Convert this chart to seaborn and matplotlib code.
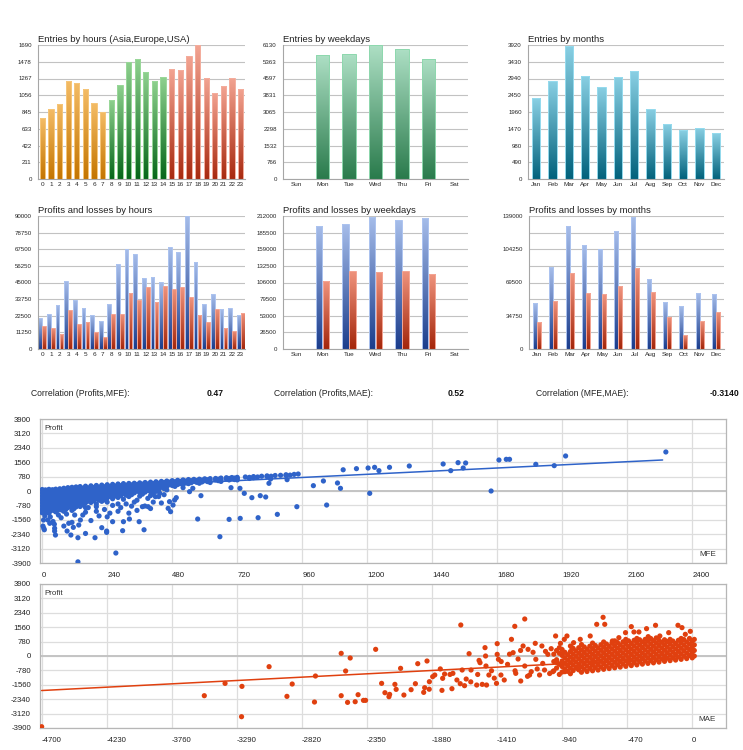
import numpy as np
import pandas as pd
import seaborn as sns
import matplotlib.pyplot as plt
from matplotlib.colors import LinearSegmentedColormap

# ---- bar chart data -------------------------------------------------------
hours = [str(h) for h in range(24)]
hour_session = ["Asia"] * 8 + ["Europe"] * 7 + ["USA"] * 9
hour_entries = [765, 879, 946, 1240, 1211, 1139, 954, 841, 1000, 1186, 1480, 1513,
                1345, 1236, 1282, 1387, 1375, 1551, 1690, 1278, 1085, 1177, 1278, 1139]
hour_entry_ticks = ["0", "211", "422", "633", "845", "1056", "1267", "1478", "1690"]

weekdays = ["Sun", "Mon", "Tue", "Wed", "Thu", "Fri", "Sat"]
weekday_entries = [0, 5657, 5703, 6110, 5932, 5490, 0]
weekday_entry_ticks = ["0", "766", "1532", "2298", "3065", "3831", "4597", "5363", "6130"]

months = ["Jan", "Feb", "Mar", "Apr", "May", "Jun", "Jul", "Aug", "Sep", "Oct", "Nov", "Dec"]
month_entries = [2360, 2867, 3905, 3023, 2701, 2994, 3159, 2057, 1609, 1424, 1492, 1336]
month_entry_ticks = ["0", "490", "980", "1470", "1960", "2450", "2940", "3430", "3920"]

hour_profits = [20750, 23690, 29780, 46020, 33160, 27750, 23240, 18950, 30460, 57300, 67450, 64300,
                48050, 48730, 45120, 68810, 65420, 90000, 58880, 30680, 37000, 26850, 27750, 23010]
hour_losses = [15790, 13990, 9930, 26400, 16690, 18050, 11730, 8350, 23690, 23690, 37670, 32940,
               42190, 31810, 42640, 40830, 41740, 34970, 23240, 18270, 27300, 14440, 12410, 24590]
hour_pl_ticks = ["0", "11250", "22500", "33750", "45000", "56250", "67500", "78750", "90000"]

weekday_profits = [0, 196600, 198700, 210900, 205600, 209300, 0]
weekday_losses = [0, 108900, 124900, 123300, 124900, 120100, 0]
weekday_pl_ticks = ["0", "26500", "53000", "79500", "106000", "132500", "159000", "185500", "212000"]

month_profits = [47730, 85350, 128200, 108350, 104870, 123330, 138300, 73510, 49470, 44600, 58180, 57830]
month_losses = [27870, 50170, 79080, 58880, 57490, 65500, 85010, 59920, 33450, 14980, 29270, 38670]
month_pl_ticks = ["0", "", "34750", "", "69500", "", "104250", "", "139000"]

# ---- scatter data: MFE vs profit ------------------------------------------
# dense cloud, one list of profits per MFE column
mfe_cloud_x = [0, 12, 25, 38, 50, 65, 80, 95, 110, 125, 140, 160, 180, 200, 220, 240, 260, 280,
               300, 320, 340, 360, 380, 400, 420, 440, 460, 480, 500, 520, 540, 560, 580, 600,
               620, 640, 660, 680, 700, 720, 750, 780, 810, 830, 860, 880, 900, 930, 945,
               6, 18, 31, 44, 57, 72, 87, 102, 117, 132, 150, 170, 190, 210, 230, 250, 270, 290,
               310, 330, 350, 370, 390, 410, 430, 450, 470, 490, 510, 530, 550, 570, 590, 610,
               650, 690, 710, 765, 795, 845, 915]
mfe_cloud_profit = [
    [80, -100, -280, -460, -640, -820, -1000, -1180],
    [60, -120, -300, -480, -660, -840, -1020, -1150],
    [90, -90, -270, -450, -630, -810, -990, -1200],
    [70, -110, -290, -470, -650, -830, -1010],
    [100, -80, -260, -440, -620, -800, -980, -1130],
    [120, -60, -240, -420, -600, -780, -960],
    [150, -30, -210, -390, -570, -750, -930, -1100],
    [180, 0, -180, -360, -540, -720, -900],
    [200, 20, -160, -340, -520, -700, -880, -1050],
    [220, 40, -140, -320, -500, -680, -860],
    [240, 60, -120, -300, -480, -660, -840],
    [260, 80, -100, -280, -460, -640, -900],
    [280, 100, -80, -260, -440, -620],
    [300, 120, -60, -240, -420, -700],
    [320, 140, -40, -220, -400, -560],
    [340, 160, -20, -200, -380, -600],
    [360, 180, 0, -180, -420],
    [380, 200, 20, -160, -350, -700],
    [400, 220, 40, -140, -450],
    [410, 240, 60, -120, -300],
    [420, 260, 80, -100, -600],
    [440, 280, 100, -80, -280],
    [460, 300, 120, -60],
    [480, 320, 140, -40, -250],
    [500, 340, 160, -20],
    [520, 380, 200],
    [540, 400, 250, 60],
    [560, 430, 300],
    [580, 460, 350],
    [600, 480, 380],
    [620, 500, 400],
    [630, 520],
    [640, 540, 420],
    [660, 560],
    [670, 580, 460],
    [680, 600],
    [700, 620, 520],
    [720, 640],
    [730, 660],
    [740, 680, 600],
    [760],
    [780, 720],
    [800],
    [820, 780],
    [840],
    [850],
    [880, 840],
    [900],
    [920],
    [-10, -190, -370, -550, -730, -910, -1090],
    [-30, -210, -390, -570, -750, -930, -1100],
    [0, -180, -360, -540, -720, -900, -1080],
    [-20, -200, -380, -560, -740, -920, -1060],
    [10, -170, -350, -530, -710, -890, -1050],
    [30, -150, -330, -510, -690, -870, -1030],
    [60, -120, -300, -480, -660, -840, -1000],
    [90, -90, -270, -450, -630, -810],
    [110, -70, -250, -430, -610, -790, -960],
    [130, -50, -230, -410, -590, -770],
    [150, -30, -210, -390, -570, -750],
    [170, -10, -190, -370, -550],
    [190, 10, -170, -350, -530],
    [210, 30, -150, -330, -500],
    [230, 50, -130, -310, -480],
    [250, 70, -110, -290],
    [270, 90, -90, -270],
    [290, 110, -70, -250],
    [310, 130, -50, -230],
    [330, 150, -30, -200],
    [350, 170, -10],
    [370, 190, 10, -170],
    [380, 210, 30],
    [400, 230, 50, -150],
    [420, 250, 70],
    [460, 300, 130],
    [480, 340],
    [500, 380, 250],
    [520, 400],
    [540, 430],
    [560, 450],
    [570, 470],
    [590, 490],
    [610, 510],
    [640, 560],
    [680, 600],
    [700, 620],
    [740, 680],
    [760],
    [800],
    [860],
]
# scattered trades
mfe_points = [5, 21, 28, 6, 3, 8, 46, 46, 49, 92, 98, 106, 115, 132, 132, 135, 141, 195, 220, 238,
              238, 272, 260, 297, 300, 322, 358, 376, 574, 656, 690, 731, 797, 868, 940, 1050, 1001,
              1038, 1090, 1101, 1209, 825, 805, 774, 746, 730, 697, 586, 556, 544, 520, 465, 474, 483,
              489, 495, 470, 418, 434, 391, 379, 837, 843, 904, 1111, 1160, 1203, 1227, 1243, 1282,
              1355, 1480, 1508, 1535, 1554, 1563, 1657, 1686, 1713, 1725, 1822, 1890, 1932, 2302,
              170, 200, 230, 260, 290, 310, 330, 350, 370, 390, 410, 430, 450, 200, 250, 150, 120,
              90, 60, 30, 10, 70, 160, 180, 110, 40, 280, 320, 240, 210, 350, 400, 440, 160, 45, 80]
profit_points_mfe = [-1572, -1572, -1750, -2020, -1900, -2100, -2020, -2170, -2385, -2170, -1750,
                     -2385, -1969, -2530, -3838, -1843, -1572, -2530, -1987, -2170, -2240, -3360,
                     -1662, -2150, -1662, -1518, -1662, -2100, -1518, -2476, -1536, -1482, -1446,
                     -1265, -850, -760, 289, 542, 434, 145, -127, -325, -253, -361, -127, 145, 180,
                     -253, 145, -36, 180, -940, -1120, -760, -488, -361, -578, -307, -127, -850,
                     -814, 416, 650, 614, 1150, 1210, 1246, 1282, 1102, 1283, 1355, 1463, 1102, 1535,
                     1246, 1517, 0, 1680, 1716, 1716, 1445, 1373, 1897, 2114,
                     -900, -850, -1000, -780, -900, -700, -820, -500, -850, -400, -600, -300, -200,
                     -1100, -1200, -1300, -1300, -1250, -1300, -1400, -1350, -1450, -1150, -1600,
                     -1700, -1650, -1100, -1200, -1400, -1350, -1050, -950, -650, -2300, -1800, -1900]
mfe_trend_x = [0, 2290]
mfe_trend_y = [50, 1680]
mfe_ticks = [0, 240, 480, 720, 960, 1200, 1440, 1680, 1920, 2160, 2400]

# ---- scatter data: MAE vs profit ------------------------------------------
mae_cloud_x = [15, 0, -40, -80, -120, -160, -200, -240, -280, -320, -360, -400, -440, -480, -520,
               -560, -600, -640, -680, -720, -760, -800, -840, -880, -920, -960, -1000,
               -20, -60, -100, -140, -180, -220, -260, -300, -340, -380, -420, -460, -500, -540,
               -580, -620, -660, -700, -740, -780, -820, -860, -900, -940, -980]
mae_cloud_profit = [
    [0, 300, 600, 900],
    [-100, 200, 500, 800],
    [-140, 160, 460, 760],
    [-180, 120, 420, 720, 950],
    [-220, 80, 380, 680],
    [-250, 50, 350, 650, 900],
    [-290, 10, 310, 610, 880],
    [-330, -30, 270, 570, 850],
    [-370, -70, 230, 530, 830],
    [-400, -100, 200, 500, 800],
    [-440, -140, 160, 460, 760],
    [-480, -180, 120, 420, 720, 950],
    [-520, -220, 80, 380, 680],
    [-560, -260, 40, 340, 640, 900],
    [-600, -300, 0, 300, 600],
    [-640, -340, -40, 260, 560, 820],
    [-680, -380, -80, 220, 520],
    [-720, -420, -120, 180, 480, 760],
    [-760, -460, -160, 140, 440],
    [-800, -500, -200, 100, 400, 700],
    [-840, -540, -240, 60, 360],
    [-880, -580, -280, 20, 320, 620],
    [-620, -320, -20, 280],
    [-960, -660, -360, -60, 240, 540],
    [-700, -400, -100, 200],
    [-1000, -450, 150, 450],
    [-800, -300, 100],
    [50, 350, 650, 950],
    [-10, 290, 590, 890],
    [-50, 250, 550, 850],
    [-90, 210, 510, 810],
    [-120, 180, 480, 780],
    [-160, 140, 440, 740],
    [-200, 100, 400, 700, 980],
    [-240, 60, 360, 660, 950],
    [-270, 30, 330, 630, 900],
    [-310, -10, 290, 590, 880],
    [-350, -50, 250, 550, 850],
    [-390, -90, 210, 510, 820],
    [-430, -130, 170, 470, 770],
    [-470, -170, 130, 430, 730],
    [-510, -210, 90, 390, 690],
    [-550, -250, 50, 350, 650],
    [-590, -290, 10, 310, 610],
    [-630, -330, -30, 270, 570],
    [-670, -370, -70, 230, 530],
    [-710, -410, -110, 190, 490],
    [-750, -450, -150, 150, 450],
    [-790, -490, -190, 110, 410],
    [-830, -530, -230, 70],
    [-870, -570, -270, 30, 350],
    [-650, -200, 300],
]
mae_points = [-4700, -3525, -3375, -3253, -3256, -3057, -2928, -2890, -2729, -2722, -2536, -2536,
              -2504, -2490, -2471, -2435, -2414, -2375, -2360, -2287, -2244, -2220, -2191, -2186,
              -2148, -2139, -2107, -2083, -2031, -1983, -1940, -1933, -1916, -1899, -1875, -1860,
              -1808, -1803, -1789, -1736, -1729, -1672, -1676, -1662, -1645, -1633, -1612, -1598,
              -1557, -1533, -1540, -1517, -1497, -1493, -1486, -1490, -1469, -1409, -1409, -1414,
              -1400, -1382, -1358, -1334, -1306, -1294, -1282, -1275, -1258, -1239, -1222, -1210,
              -1210, -1186, -1175, -1163, -1134, -1130, -1103, -1086, -1067, -1043, -1019, -1007,
              -987, -975, -952, -940, -924, -920, -905, -869, -857, -830, -809, -737, -690, -644,
              -632, -577, -530, -482, -440, -421, -385, -330, -318, -265, -234, -170, -103, -74,
              -50, -14, -1380, -1320, -1280, -1240, -1190, -1150, -1120, -1080, -1060, -1030,
              -1450, -1430, -1550, -1600, -1700, -1750, -1820, -1900, -2000]
profit_points_mae = [-3830, -2150, -1482, -1645, -3288, -578, -2186, -1518, -2493, -1084, 144, -2150,
                     -813, -2512, -108, -2476, -2096, -2403, -2403, 361, -1482, -1988, -2204, -2078,
                     -1536, -1807, -668, -2114, -1825, -416, -1970, -1717, -271, -1392, -1120, -1030,
                     -1861, -1210, -976, -1771, -940, 1680, -1500, -759, -1608, -1247, 126, -759,
                     -1572, -362, -238, -1536, 452, 0, -1572, -542, -1030, 668, 90, -1482,
                     -180, -1030, -1300, -452, 903, 181, 1608, -940, -163, -1355, 542, 2005,
                     -542, 361, -1030, -849, 686, -180, -1030, 542, -759, 90, 397, -849,
                     1084, -361, 686, 90, 903, -849, 1084, 452, 722, -668, 903, 1084, 1716, 2096,
                     1716, 813, 993, 1265, 1590, 1301, 1301, 1481, 1048, 1663, 1084, 1265, 1663, 1536,
                     1175, 1337, -300, 100, -800, 300, -1100, 200, -700, -400, 250, -950,
                     -800, -1200, -1000, -1400, -1300, -1000, -700, -1800, -1500]
mae_trend_x = [-4700, 0]
mae_trend_y = [-1870, -60]
mae_ticks = [-4700, -4230, -3760, -3290, -2820, -2350, -1880, -1410, -940, -470, 0]

profit_ticks = [-3900, -3120, -2340, -1560, -780, 0, 780, 1560, 2340, 3120, 3900]

correlations = [("Correlation (Profits,MFE):", "0.47"),
                ("Correlation (Profits,MAE):", "0.52"),
                ("Correlation (MFE,MAE):", "-0.3140")]

# ---- colours (top, bottom, edge) -------------------------------------------
ORANGE = ("#f4bc66", "#c47500", "#f6c67a")
GREEN = ("#8fd18f", "#07661a", "#9ad89a")
RED = ("#f3a492", "#a82a10", "#f4ae9e")
MINT = ("#addfc4", "#2a7b4c", "#8ed8ae")
TEAL = ("#8ad0e4", "#02627c", "#96dbee")
BLUE = ("#a6bdea", "#1b3d8c", "#adc4f0")
BRICK = ("#f0957f", "#a4260a", "#f4a594")
SC_BLUE = "#2f63c9"
SC_RED = "#e0400f"

W, H = 743, 750


def box(left, top, right, bottom):
    return [left / W, 1 - bottom / H, (right - left) / W, (bottom - top) / H]


def shade(ax, bars, colors):
    top, bottom, edge = colors
    cmap = LinearSegmentedColormap.from_list("g", [bottom, top])
    grad = np.linspace(0, 1, 128).reshape(-1, 1)
    for bar in bars:
        h = bar.get_height()
        if h <= 0:
            bar.set_visible(False)
            continue
        x, w = bar.get_x(), bar.get_width()
        bar.set_facecolor("none")
        bar.set_edgecolor(edge)
        bar.set_linewidth(0.7)
        bar.set_zorder(2)
        im = ax.imshow(grad, cmap=cmap, origin="lower", aspect="auto", interpolation="bilinear",
                       extent=(x, x + w, 0, h), zorder=1.5)
        im.set_clip_path(bar)


def style_bars(ax, title, ylabels, ncat):
    ymax = float(ylabels[-1])
    ax.set_xlim(-0.5, ncat - 0.5)
    ax.set_ylim(0, ymax)
    ax.set_yticks(np.linspace(0, ymax, len(ylabels)))
    ax.set_yticklabels(ylabels)
    ax.set_xlabel("")
    ax.set_ylabel("")
    ax.set_title(title, loc="left", fontsize=6.8, pad=2.5, color="#222222")
    ax.yaxis.grid(True, color="#c2c2c2", lw=0.8)
    ax.xaxis.grid(False)
    ax.set_axisbelow(True)
    for s in ["top", "right"]:
        ax.spines[s].set_visible(False)
    for s in ["left", "bottom"]:
        ax.spines[s].set_color("#a6a6a6")
        ax.spines[s].set_linewidth(0.8)
    ax.tick_params(axis="y", length=3, width=0.7, color="#a6a6a6", labelsize=4.4, pad=1.5)
    ax.tick_params(axis="x", which="major", length=0, labelsize=4.6, pad=2.5)
    ax.set_xticks(np.arange(-0.5, ncat), minor=True)
    ax.tick_params(axis="x", which="minor", length=3, width=0.7, color="#a6a6a6")


def entries_panel(ax, cats, values, groups, palette, title, ylabels, width):
    df = pd.DataFrame({"cat": cats, "value": values, "group": groups})
    sns.barplot(data=df, x="cat", y="value", hue="group", dodge=False, width=width,
                legend=False, ax=ax)
    for cont, colors in zip(ax.containers, palette):
        shade(ax, cont, colors)
    style_bars(ax, title, ylabels, len(cats))


def pl_panel(ax, cats, profits, losses, title, ylabels, width):
    df = pd.DataFrame({"cat": cats * 2, "value": profits + losses,
                       "kind": ["profit"] * len(cats) + ["loss"] * len(cats)})
    sns.barplot(data=df, x="cat", y="value", hue="kind", width=width, gap=0.05,
                legend=False, ax=ax)
    for cont, colors in zip(ax.containers, [BLUE, BRICK]):
        shade(ax, cont, colors)
    style_bars(ax, title, ylabels, len(cats))


def scatter_panel(ax, xs, ys, tx, ty, color, xlim, xticks, xname):
    sns.scatterplot(x=xs, y=ys, color=color, s=14, edgecolor="none", linewidth=0, ax=ax, zorder=3)
    sns.lineplot(x=tx, y=ty, color=color, lw=1.1, ax=ax, zorder=4)
    ax.set_xlim(xlim)
    ax.set_ylim(-3900, 3900)
    ax.set_yticks(profit_ticks)
    ax.set_xticks(xticks)
    ax.grid(True, color="#dddddd", lw=0.9)
    ax.axhline(0, color="#c4c4c4", lw=1.4, zorder=1)
    ax.set_axisbelow(True)
    for s in ax.spines.values():
        s.set_color("#b6b6b6")
        s.set_linewidth(0.9)
    ax.tick_params(length=5, width=0.8, color="#d6d6d6", labelsize=5.6, pad=1.5, labelcolor="#222222")
    for lab in ax.get_xticklabels():
        lab.set_horizontalalignment("left")
    ax.text(0.007, 0.955, "Profit", transform=ax.transAxes, fontsize=5.8, va="top", color="#333333")
    ax.text(0.985, 0.035, xname, transform=ax.transAxes, fontsize=5.8, ha="right", va="bottom",
            color="#333333")


def main():
    sns.set_style("white")
    plt.rcParams["font.family"] = ["Liberation Sans", "DejaVu Sans"]
    plt.rcParams["axes.unicode_minus"] = False

    fig = plt.figure(figsize=(W / 100, H / 100), dpi=100)

    ax1 = fig.add_axes(box(38, 45, 245, 179))
    entries_panel(ax1, hours, hour_entries, hour_session, [ORANGE, GREEN, RED],
                  "Entries by hours (Asia,Europe,USA)", hour_entry_ticks, 0.6)
    ax2 = fig.add_axes(box(283, 45, 468, 179))
    entries_panel(ax2, weekdays, weekday_entries, ["d"] * 7, [MINT],
                  "Entries by weekdays", weekday_entry_ticks, 0.5)
    ax3 = fig.add_axes(box(528, 45, 724, 179))
    entries_panel(ax3, months, month_entries, ["m"] * 12, [TEAL],
                  "Entries by months", month_entry_ticks, 0.5)

    ax4 = fig.add_axes(box(38, 216, 245, 349))
    pl_panel(ax4, hours, hour_profits, hour_losses, "Profits and losses by hours", hour_pl_ticks, 0.92)
    ax5 = fig.add_axes(box(283, 216, 468, 349))
    pl_panel(ax5, weekdays, weekday_profits, weekday_losses, "Profits and losses by weekdays",
             weekday_pl_ticks, 0.52)
    ax6 = fig.add_axes(box(529, 216, 724, 349))
    pl_panel(ax6, months, month_profits, month_losses, "Profits and losses by months",
             month_pl_ticks, 0.52)

    # correlation row
    label_x = [31, 274, 536]
    value_x = [224, 465, 739]
    for (label, value), lx, vx in zip(correlations, label_x, value_x):
        fig.text(lx / W, 1 - 394 / H, label, fontsize=6.2, va="center", color="#222222")
        fig.text(vx / W, 1 - 394 / H, value, fontsize=6.2, va="center", ha="right",
                 fontweight="bold", color="#111111")

    mfe_x = [x for x, col in zip(mfe_cloud_x, mfe_cloud_profit) for _ in col] + mfe_points
    mfe_y = [p for col in mfe_cloud_profit for p in col] + profit_points_mfe
    ax7 = fig.add_axes(box(40, 419, 726, 563))
    scatter_panel(ax7, mfe_x, mfe_y, mfe_trend_x, mfe_trend_y, SC_BLUE, (-8, 2524), mfe_ticks, "MFE")

    mae_x = [x for x, col in zip(mae_cloud_x, mae_cloud_profit) for _ in col] + mae_points
    mae_y = [p for col in mae_cloud_profit for p in col] + profit_points_mae
    ax8 = fig.add_axes(box(40, 584, 726, 728))
    scatter_panel(ax8, mae_x, mae_y, mae_trend_x, mae_trend_y, SC_RED, (-4712, 244), mae_ticks, "MAE")

    fig.savefig("out.png", dpi=100)


if __name__ == "__main__":
    main()
